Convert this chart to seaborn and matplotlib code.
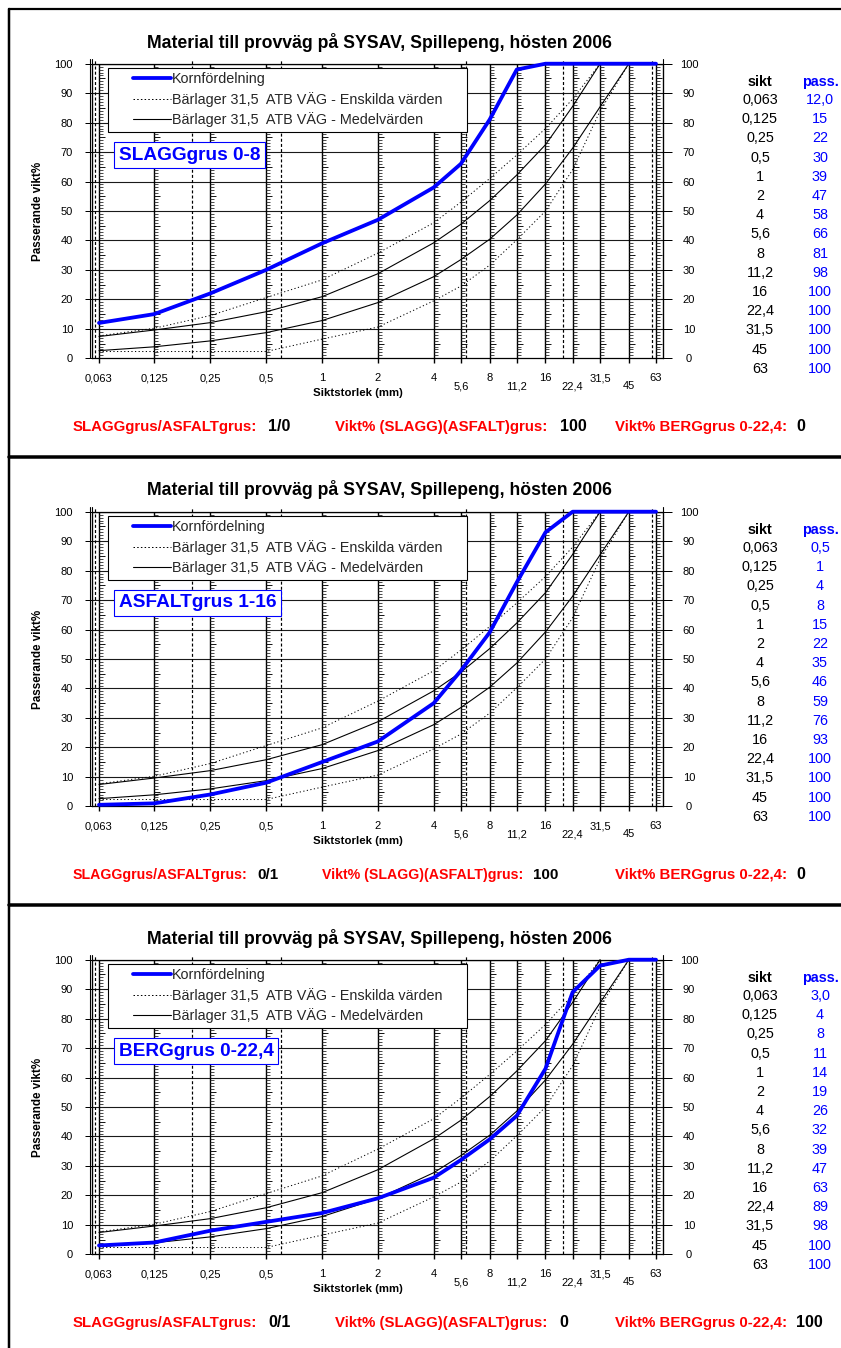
import numpy as np
import pandas as pd
import matplotlib
matplotlib.use("Agg")
import matplotlib.pyplot as plt
from matplotlib.path import Path
from matplotlib.lines import Line2D
from matplotlib.legend_handler import HandlerLine2D
from matplotlib.ticker import FixedLocator, FixedFormatter
import seaborn as sns

# Sieve sizes (mm) and their printed labels
sikt = [0.063, 0.125, 0.25, 0.5, 1, 2, 4, 5.6, 8, 11.2, 16, 22.4, 31.5, 45, 63]
sikt_txt = ["0,063", "0,125", "0,25", "0,5", "1", "2", "4", "5,6", "8",
            "11,2", "16", "22,4", "31,5", "45", "63"]

# Passing percentages for the three materials
pass_slagg = [12.0, 15, 22, 30, 39, 47, 58, 66, 81, 98, 100, 100, 100, 100, 100]
pass_asfalt = [0.5, 1, 4, 8, 15, 22, 35, 46, 59, 76, 93, 100, 100, 100, 100]
pass_berg = [3.0, 4, 8, 11, 14, 19, 26, 32, 39, 47, 63, 89, 98, 100, 100]

# ATB VÄG base-course 31.5 grading envelopes (passing %, from the finest sieve up)
medel_ovre = [7.4, 9.6, 12.1, 15.8, 20.9, 28.7, 39.2, 45.5, 53.5, 62.2, 72.5, 85.5, 100]
medel_undre = [2.6, 3.9, 5.9, 8.7, 12.8, 18.9, 27.7, 33.5, 40.4, 48.6, 59.2, 71.3, 85.4, 100]
enskild_ovre = [7.6, 10.2, 14.5, 20.6, 26.6, 35.7, 46, 53, 61, 69, 78, 88, 100]
enskild_undre = [2.3, 2.3, 2.3, 2.3, 6.5, 10.6, 19.5, 24.5, 31.6, 40.2, 50, 64, 84, 100]

# Soil-fraction boundaries (mm)
fraktionsgranser = [0.06, 0.2, 0.6, 6, 20, 60]

material = ["SLAGGgrus 0-8", "ASFALTgrus 1-16", "BERGgrus 0-22,4"]
passering = [pass_slagg, pass_asfalt, pass_berg]
blandning = ["1/0", "0/1", "0/1"]
vikt_slagg_asfalt = ["100", "100", "0"]
vikt_berg = ["0", "0", "100"]

titel = "Material till provväg på SYSAV, Spillepeng, hösten 2006"
leg_korn = "Kornfördelning"
leg_enskild = "Bärlager 31,5  ATB VÄG - Enskilda värden"
leg_medel = "Bärlager 31,5  ATB VÄG - Medelvärden"

BLUE = "#0000FF"
RED = "#FF0000"

sns.set_theme(style="white")
plt.rcParams["font.family"] = ["Liberation Sans", "DejaVu Sans"]
plt.rcParams["axes.linewidth"] = 0.9

W, H = 841, 1348
fig = plt.figure(figsize=(W / 100, H / 100), dpi=100)
fig.patch.set_facecolor("white")


def fx(x):
    return x / W


def fy(y):
    return 1 - y / H


def pt(px):
    return px * 0.72


# outer frame and panel separators
fig.add_artist(Line2D([fx(8.5), fx(8.5)], [fy(9), fy(1348)], color="black", lw=pt(2.5)))
fig.add_artist(Line2D([fx(8.5), fx(841)], [fy(9), fy(9)], color="black", lw=pt(2.2)))
for ysep in (457, 905):
    fig.add_artist(Line2D([fx(8.5), fx(841)], [fy(ysep), fy(ysep)], color="black", lw=pt(3.5)))

upper_idx = [0, 1, 2, 3, 4, 5, 6, 8, 10, 12, 14]
lower_idx = [7, 9, 11, 13]
ruler = Path([(0, 0), (1, 0)])
fine = [v for v in range(1, 100) if v % 5]
mid = list(range(5, 100, 10))

PANEL_H = 448
AX_L, AX_R, AX_T, AX_B = 92, 663, 63.7, 358.3

# summary row layout per panel: (label size, value x, 2nd label x, 2nd value x)
summary_layout = [(10.8, 268, 335, 560), (10.2, 257, 322, 533), (10.8, 268, 335, 559)]

for k in range(3):
    oy = PANEL_H * k
    ax = fig.add_axes([fx(AX_L), fy(AX_B + oy), (AX_R - AX_L) / W, (AX_B - AX_T) / H])
    ax.set_facecolor("white")
    ax.set_xscale("log")
    ax.set_xlim(0.05777, 68.7)
    ax.set_ylim(0, 100)

    # horizontal grid every 10 %
    ax.hlines(range(10, 100, 10), 0.05777, 68.7, color="#1a1a1a", lw=0.8, zorder=1)
    ax.hlines([100], 0.05777, 68.7, color="black", lw=0.9, zorder=1)
    # sieve lines with 1 % ruler marks
    ax.vlines(sikt, 0, 100, color="black", lw=pt(1.4), zorder=1)
    ax.plot(np.repeat(sikt, len(fine)), np.tile(fine, len(sikt)), ls="none",
            marker=ruler, ms=pt(8), mew=0.6, mec="#2a2a2a", zorder=1)
    ax.plot(np.repeat(sikt, len(mid)), np.tile(mid, len(sikt)), ls="none",
            marker=ruler, ms=pt(12), mew=0.7, mec="#111111", zorder=1)
    # fraction boundaries
    ax.vlines(fraktionsgranser, 0, 101.6, color="black", lw=pt(1.2),
              linestyles=(0, (2.5, 1.8)), zorder=1, clip_on=False)
    # doubled left edge and extended side edges
    for xa in (-2.0 / (AX_R - AX_L), 0.0, 1.0):
        ax.plot([xa, xa], [0, 1.016], transform=ax.transAxes, color="black",
                lw=pt(1.1), clip_on=False, zorder=2)

    # envelopes
    dots = (0, (1.2, 2.4))
    sns.lineplot(x=sikt[:len(enskild_ovre)], y=enskild_ovre, ax=ax, color="black",
                 lw=pt(1.0), linestyle=dots, estimator=None, sort=False)
    sns.lineplot(x=sikt[:len(enskild_undre)], y=enskild_undre, ax=ax, color="black",
                 lw=pt(1.0), linestyle=dots, estimator=None, sort=False)
    sns.lineplot(x=sikt[:len(medel_ovre)], y=medel_ovre, ax=ax, color="black",
                 lw=pt(1.1), estimator=None, sort=False)
    sns.lineplot(x=sikt[:len(medel_undre)], y=medel_undre, ax=ax, color="black",
                 lw=pt(1.1), estimator=None, sort=False)
    # grading curve of the material
    df = pd.DataFrame({"sikt": sikt, "passerande": passering[k]})
    sns.lineplot(data=df, x="sikt", y="passerande", ax=ax, color=BLUE, lw=pt(3.8),
                 estimator=None, sort=False, zorder=5)
    for ln in ax.lines:
        ln.set_clip_on(False)

    # x ticks: staggered labels
    ax.xaxis.set_major_locator(FixedLocator([sikt[i] for i in upper_idx]))
    ax.xaxis.set_major_formatter(FixedFormatter([sikt_txt[i] for i in upper_idx]))
    ax.xaxis.set_minor_locator(FixedLocator([sikt[i] for i in lower_idx]))
    ax.xaxis.set_minor_formatter(FixedFormatter([sikt_txt[i] for i in lower_idx]))
    ax.tick_params(axis="x", which="major", direction="out", length=pt(5), width=pt(1.4),
                   pad=pt(10), labelsize=8, colors="black", bottom=True)
    ax.tick_params(axis="x", which="minor", direction="out", length=pt(5), width=pt(1.4),
                   pad=pt(18), labelsize=8, colors="black", bottom=True)
    ax.set_yticks(range(0, 101, 10))
    ax.tick_params(axis="y", direction="out", length=pt(7), width=pt(1), pad=pt(12),
                   labelsize=8, colors="black", left=True)
    for s in ax.spines.values():
        s.set_color("black")

    ax2 = ax.twinx()
    ax2.set_ylim(0, 100)
    ax2.set_yticks(range(0, 101, 10))
    ax2.tick_params(axis="y", direction="out", length=pt(9), width=pt(1), pad=pt(17),
                    labelsize=8, colors="black", right=True)
    for lab in ax2.get_yticklabels():
        lab.set_horizontalalignment("center")
    for s in ax2.spines.values():
        s.set_visible(False)

    ax.set_xlabel("Siktstorlek (mm)", fontsize=8.2, fontweight="bold", color="black")
    ax.xaxis.set_label_coords((358 - AX_L) / (AX_R - AX_L), -(393 - AX_B) / (AX_B - AX_T))
    ax.xaxis.label.set_va("center")
    ax.set_ylabel("Passerande vikt%", fontsize=8.4, fontweight="bold", color="black")
    ax.yaxis.set_label_coords(-(AX_L - 38) / (AX_R - AX_L), 0.5)
    ax.yaxis.label.set_va("center")

    # legend
    fs_leg = 10.4
    handles = [Line2D([], [], color=BLUE, lw=pt(3.8)),
               Line2D([], [], color="black", lw=pt(1.0), linestyle=(0, (1.5, 2.2))),
               Line2D([], [], color="black", lw=pt(1.1))]
    hm = {h: HandlerLine2D(xpad=1.42) for h in handles}
    leg = ax.legend(handles, [leg_korn, leg_enskild, leg_medel], loc="upper left",
                    bbox_to_anchor=(16 / 571, 0.0, 359 / 571, 0.985), mode="expand",
                    borderaxespad=0, fontsize=fs_leg, frameon=True, fancybox=False,
                    shadow=False, borderpad=0.3, labelspacing=0.38, handletextpad=0.1,
                    handlelength=4.05, handler_map=hm)
    leg.get_frame().set_edgecolor("black")
    leg.get_frame().set_linewidth(pt(1.1))
    leg.get_frame().set_facecolor("white")
    leg.get_frame().set_alpha(1)
    leg.set_zorder(10)

    # material label
    ax.text((119 - AX_L) / (AX_R - AX_L), (AX_B - 155) / (AX_B - AX_T), material[k],
            transform=ax.transAxes, ha="left", va="center", fontsize=13.7,
            fontweight="bold", color=BLUE, zorder=11,
            bbox=dict(boxstyle="square,pad=0.24", fc="white", ec=BLUE, lw=pt(1.1)))

    # title
    fig.text(fx(379), fy(42 + oy), titel, ha="center", va="center", fontsize=12.7,
             fontweight="bold", color="black")

    # sieve table
    fig.text(fx(760), fy(86 + oy), "sikt", ha="center", va="baseline", fontsize=10.4,
             fontweight="bold", color="black")
    fig.text(fx(820), fy(86 + oy), "pass.", ha="center", va="baseline", fontsize=10.4,
             fontweight="bold", color=BLUE)
    for i, (s_txt, v) in enumerate(zip(sikt_txt, passering[k])):
        yrow = 104 + oy + i * 19.2
        v_txt = f"{v:.1f}".replace(".", ",") if i == 0 else f"{v:.0f}"
        fig.text(fx(760), fy(yrow), s_txt, ha="center", va="baseline", fontsize=10.4,
                 color="black")
        fig.text(fx(820), fy(yrow), v_txt, ha="center", va="baseline", fontsize=10.4,
                 color=BLUE)

    # mix summary
    fs_lab, x_val1, x_lab2, x_val2 = summary_layout[k]
    fs_val = fs_lab + 0.7
    yb = fy(431 + oy)
    fig.text(fx(73), yb, "SLAGGgrus/ASFALTgrus:", ha="left", va="baseline", fontsize=fs_lab,
             fontweight="bold", color=RED)
    fig.text(fx(x_val1), yb, blandning[k], ha="left", va="baseline", fontsize=fs_val,
             fontweight="bold", color="black")
    fig.text(fx(x_lab2), yb, "Vikt% (SLAGG)(ASFALT)grus:", ha="left", va="baseline",
             fontsize=fs_lab, fontweight="bold", color=RED)
    fig.text(fx(x_val2), yb, vikt_slagg_asfalt[k], ha="left", va="baseline", fontsize=fs_val,
             fontweight="bold", color="black")
    fig.text(fx(615), yb, "Vikt% BERGgrus 0-22,4:", ha="left", va="baseline", fontsize=10.8,
             fontweight="bold", color=RED)
    fig.text(fx(796), yb, vikt_berg[k], ha="left", va="baseline", fontsize=11.5,
             fontweight="bold", color="black")

fig.savefig("out.png", dpi=100)
